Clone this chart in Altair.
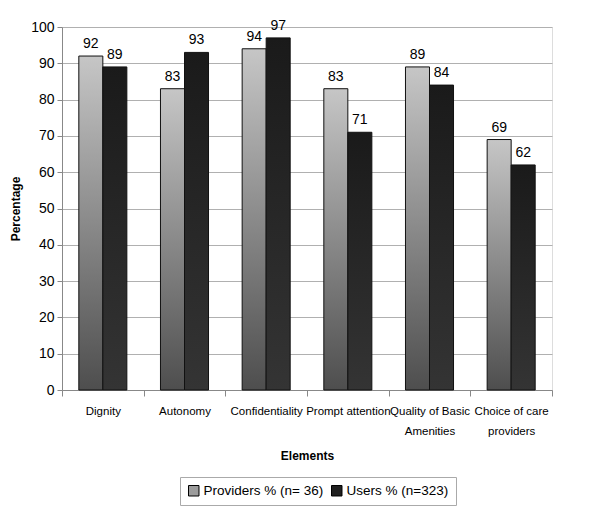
import altair as alt
import pandas as pd

categories = ["Dignity", "Autonomy", "Confidentiality", "Prompt attention",
              "Quality of Basic|Amenities", "Choice of care|providers"]
providers = [92, 83, 94, 83, 89, 69]
users = [89, 93, 97, 71, 84, 62]
series_names = ["Providers % (n= 36)", "Users % (n=323)"]

rows = []
for c, p, u in zip(categories, providers, users):
    rows.append({"cat": c, "series": series_names[0], "value": p})
    rows.append({"cat": c, "series": series_names[1], "value": u})
df = pd.DataFrame(rows)

FONT = "Liberation Sans"

x_enc = alt.X("cat:N", sort=categories, title="Elements",
              scale=alt.Scale(paddingInner=0, paddingOuter=0),
              axis=alt.Axis(labelAngle=0, labelExpr="split(datum.label, '|')",
                            tickBand="extent", labelFontSize=11.5, labelFont=FONT,
                            labelColor="#000", titleFont="Liberation Sans",
                            titleFontSize=12, titleFontWeight="bold",
                            titlePadding=14, labelPadding=9, tickSize=6,
                            domainColor="#888", tickColor="#888", labelLineHeight=20,
                            grid=False, labelLimit=90))
xo_enc = alt.XOffset("series:N", sort=series_names,
                     scale=alt.Scale(domain=series_names, paddingInner=0, paddingOuter=0.7))
y_enc = alt.Y("value:Q", title="Percentage",
              scale=alt.Scale(domain=[0, 100]),
              axis=alt.Axis(values=list(range(0, 101, 10)), labelFontSize=14,
                            labelFont=FONT, labelColor="#000", titleFont="Liberation Sans",
                            titleFontSize=12, titleFontWeight="bold", titlePadding=8,
                            gridColor="#b0b0b0", domainColor="#888", tickColor="#888",
                            tickSize=5, labelPadding=3))

grad_p = alt.LinearGradient(gradient="linear", x1=0, y1=0, x2=0, y2=1,
                            stops=[alt.GradientStop(offset=0, color="#c6c6c6"),
                                   alt.GradientStop(offset=1, color="#4e4e4e")])
grad_u = alt.LinearGradient(gradient="linear", x1=0, y1=0, x2=0, y2=1,
                            stops=[alt.GradientStop(offset=0, color="#1a1a1a"),
                                   alt.GradientStop(offset=1, color="#343434")])

base = alt.Chart(df)

bars_p = base.transform_filter(alt.datum.series == series_names[0]).mark_bar(
    fill=grad_p, stroke="#111", strokeWidth=1).encode(x=x_enc, xOffset=xo_enc, y=y_enc)
bars_u = base.transform_filter(alt.datum.series == series_names[1]).mark_bar(
    fill=grad_u, stroke="#111", strokeWidth=1).encode(x=x_enc, xOffset=xo_enc, y=y_enc)

labels = base.mark_text(dy=-12, fontSize=14, font=FONT, color="#000").encode(
    x=x_enc, xOffset=xo_enc, y=y_enc, text="value:Q")

legend_layer = base.mark_square(opacity=0, size=10).encode(
    x=x_enc, xOffset=xo_enc, y=y_enc,
    color=alt.Color("series:N", sort=series_names,
                    scale=alt.Scale(domain=series_names, range=["#9c9c9c", "#202020"]),
                    legend=alt.Legend(title=None, orient="none", direction="horizontal",
                                      legendX=118, legendY=450, symbolType="square",
                                      symbolSize=110, symbolOpacity=1,
                                      symbolStrokeColor="#000", symbolStrokeWidth=1,
                                      labelFontSize=13.5, labelFont=FONT, labelColor="#000",
                                      strokeColor="#aaa", padding=7, columnPadding=5,
                                      symbolOffset=0, labelOffset=3, labelLimit=300)))

chart = alt.layer(bars_p, bars_u, labels, legend_layer).properties(
    width=490, height=363,
    autosize=alt.AutoSizeParams(type="none"),
    padding={"left": 54, "top": 19, "right": 40, "bottom": 130},
).configure_view(stroke=None).configure(background="white")

chart.save("out.html", embed_options={"renderer": "svg", "actions": False})
